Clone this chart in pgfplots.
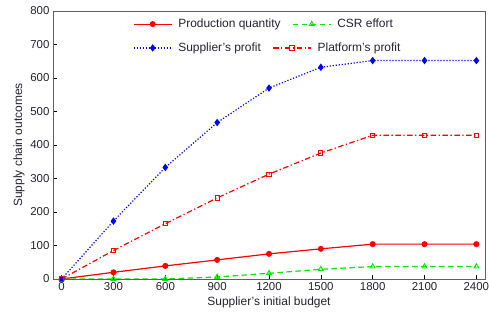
\documentclass[border=0pt]{standalone}
\usepackage{pgfplots}
\pgfplotsset{compat=1.18}
\usepackage{fontspec}
\setmainfont{Liberation Sans}
\definecolor{axgray}{RGB}{95,95,95}
\definecolor{txt}{RGB}{35,35,45}
\definecolor{mgreen}{RGB}{0,230,0}
\pgfplotsset{
  base/.style={
    scale only axis, width=432bp, height=268bp,
    xmin=-50, xmax=2450, ymin=0, ymax=800,
  },
  leg/.style={
    legend columns=-1,
    legend style={draw=none, fill=none, inner sep=0pt, anchor=west,
      font=\fontsize{12}{14}\selectfont, text=txt,
      nodes={inner sep=0pt},
      /tikz/every odd column/.append style={column sep=6bp},
      /tikz/every even column/.append style={column sep=11.5bp}},
    legend image code/.code={
      \draw[##1, mark=none] (0bp,0bp) -- (38bp,0bp);
      \draw[##1, only marks] plot coordinates {(19bp,0bp)};
    },
  },
  sprod/.style={red, line width=1.2pt, solid, mark=*, mark size=2.4pt, mark options={solid, fill=red}},
  scsr/.style={mgreen, line width=1.2pt, dash pattern=on 5.5bp off 3.5bp, mark=triangle, mark size=2.8pt, mark options={solid, line width=0.9pt}},
  ssup/.style={blue, line width=1.2pt, dash pattern=on 1.2bp off 1.8bp, mark=diamond*, mark size=2.8pt, mark options={solid, fill=blue}},
  splat/.style={red, line width=1.2pt, dash pattern=on 5.5bp off 2.5bp on 1.3bp off 2.5bp, mark=square, mark size=2.1pt, mark options={solid, line width=0.9pt}},
}
\begin{document}
\begin{tikzpicture}
\begin{axis}[base, leg,
  xtick={0,300,...,2400}, ytick={0,100,...,800},
  tick align=inside, xtick pos=bottom, ytick pos=left,
  major tick length=4bp,
  axis line style={axgray, line width=0.9pt},
  every tick/.style={black, line width=0.6pt},
  tick label style={font=\fontsize{11.5}{13}\selectfont, text=txt},
  /pgf/number format/assume math mode=true,
  /pgf/number format/1000 sep={},
  xlabel={Supplier's initial budget}, ylabel={Supply chain outcomes},
  label style={font=\fontsize{12}{14}\selectfont, text=txt},
  xlabel style={yshift=1bp}, ylabel style={yshift=-1bp},
  legend style={at={(0.185,0.951)}},
]
\addplot[sprod]
 coordinates {(0,0) (300,20) (600,39) (900,57) (1200,75) (1500,90) (1800,104) (2100,104) (2400,104)};
\addlegendentry{Production quantity}
\addplot[scsr]
 coordinates {(0,0) (300,0) (600,0) (900,6) (1200,17) (1500,29) (1800,37) (2100,37) (2400,37)};
\addlegendentry{CSR effort}
\addplot[ssup, forget plot]
 coordinates {(0,0) (300,173) (600,333) (900,467) (1200,570) (1500,632) (1800,652) (2100,652) (2400,652)};
\addplot[splat, forget plot]
 coordinates {(0,0) (300,85) (600,165) (900,242) (1200,313) (1500,376) (1800,429) (2100,429) (2400,429)};
\end{axis}
\begin{axis}[base, leg, hide axis,
  legend style={at={(0.185,0.862)}},
]
\addlegendimage{ssup}
\addlegendentry{Supplier's profit}
\addlegendimage{splat}
\addlegendentry{Platform's profit}
\end{axis}
\pgfresetboundingbox
\path[use as bounding box] ([shift={(-53bp,-40bp)}]current axis.south west) rectangle ([shift={(4bp,11bp)}]current axis.north east);
\end{tikzpicture}
\end{document}
